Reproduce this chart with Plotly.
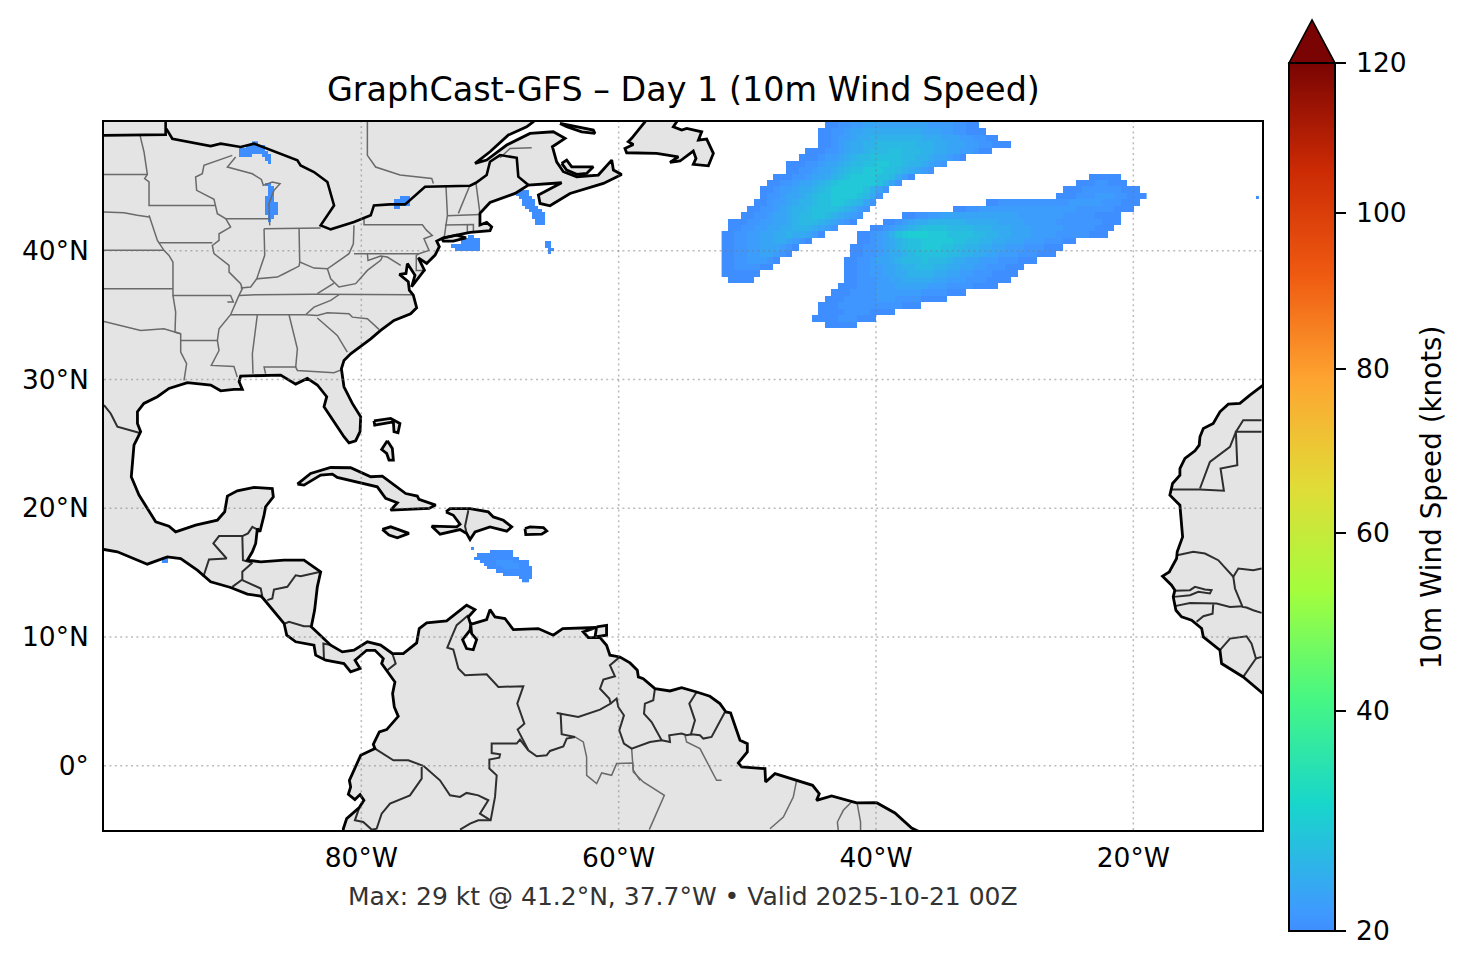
import numpy as np
import plotly.graph_objects as go

TITLE = "GraphCast-GFS – Day 1 (10m Wind Speed)"
FOOTER = "Max: 29 kt @ 41.2°N, 37.7°W • Valid 2025-10-21 00Z"
CBAR_TITLE = "10m Wind Speed (knots)"
LON_TICKS = [-80, -60, -40, -20]
LON_LABELS = ["80°W", "60°W", "40°W", "20°W"]
LAT_TICKS = [0, 10, 20, 30, 40]
LAT_LABELS = ["0°", "10°N", "20°N", "30°N", "40°N"]
CBAR_KT = [20, 40, 60, 80, 100, 120]
CBAR_POS = [0, 0.2535, 0.4585, 0.6475, 0.827, 1]
NORM_KT = [20, 30, 40, 60, 80, 100, 120]
NORM_POS = [0, 0.143, 0.2535, 0.4585, 0.6475, 0.827, 1]
CBAR_SCALE = [[0, "#3f8eff"], [0.024, "#3e9bfe"], [0.146, "#18d6cb"], [0.268, "#46f783"],
              [0.39, "#a3fd3d"], [0.512, "#e1dc37"], [0.634, "#fea531"], [0.756, "#ef5a11"],
              [0.878, "#cb2a04"], [1, "#7a0403"]]

MAINLAND = [(-101, 51), (-66.5, 51), (-66.63, 50.02), (-67.15, 49.63), (-68.57, 48.99), (-70.0, 47.69), (-71.16, 46.78),
    (-70.26, 47.04), (-68.70, 48.21), (-66.89, 49.11), (-65.08, 49.24), (-64.17, 48.73), (-65.15, 48.08), (-64.82, 46.91),
    (-64.3, 46.14), (-63.26, 45.75), (-61.58, 45.88), (-60.54, 47.04), (-60.41, 46.27), (-59.77, 45.93), (-61.19, 45.23),
    (-63.78, 44.45), (-65.34, 43.49), (-66.11, 43.67), (-66.24, 44.32), (-64.43, 45.28), (-67.02, 45.1), (-68.05, 44.45),
    (-70.0, 43.75), (-70.78, 42.9), (-70.78, 42.0), (-70.26, 42.2), (-69.87, 41.86), (-70.0, 41.55), (-71.55, 41.42),
    (-73.63, 41.01), (-74.14, 40.75), (-73.94, 40.31), (-74.27, 39.66), (-74.92, 39.01), (-75.57, 39.45), (-75.1, 38.49),
    (-76.09, 37.2), (-75.83, 38.1), (-76.42, 39.0), (-76.53, 38.23), (-77.04, 38.16), (-76.35, 37.59), (-76.27, 36.94),
    (-75.96, 36.55), (-75.7, 35.57), (-76.17, 35.1), (-77.46, 34.59), (-78.5, 33.81), (-79.27, 33.16), (-80.83, 31.99),
    (-81.35, 31.48), (-81.55, 30.83), (-81.35, 29.43), (-80.7, 28.14), (-80.05, 27.1), (-80.1, 25.94), (-80.44, 25.24),
    (-80.96, 25.08), (-81.35, 25.55), (-81.87, 26.33), (-82.9, 27.88), (-82.69, 28.66), (-83.42, 29.57), (-84.2, 30.08),
    (-85.1, 29.64), (-86.27, 30.34), (-89.38, 30.26), (-89.5, 29.82), (-89.25, 29.23), (-89.9, 29.23), (-90.93, 29.12),
    (-91.7, 29.57), (-93.52, 29.75), (-94.95, 29.3), (-95.85, 28.66), (-96.9, 28.14), (-97.4, 27.49), (-97.4, 26.58),
    (-97.15, 25.94), (-97.67, 24.9), (-97.88, 22.44), (-97.28, 21.02), (-96.63, 19.98), (-95.98, 18.94), (-94.95, 18.6),
    (-94.43, 18.16), (-92.88, 18.68), (-91.19, 19.07), (-90.62, 19.72), (-90.41, 20.94), (-89.64, 21.35), (-88.34, 21.61),
    (-86.92, 21.53), (-86.84, 20.89), (-87.44, 20.11), (-87.56, 19.46), (-87.88, 18.17), (-88.08, 18.42), (-88.21, 17.26),
    (-88.47, 16.61), (-88.86, 15.96), (-87.82, 15.83), (-86.01, 15.96), (-84.46, 15.96), (-83.16, 15.06), (-83.42, 13.89),
    (-83.63, 12.08), (-83.89, 10.78), (-82.38, 9.36), (-81.48, 8.84), (-80.57, 8.97), (-79.53, 9.62), (-78.5, 9.36),
    (-77.59, 8.71), (-76.74, 8.7), (-75.7, 9.53), (-75.5, 10.65), (-74.92, 11.09), (-73.37, 11.24), (-71.82, 12.46),
    (-71.17, 12.12), (-71.69, 11.55), (-71.5, 10.98), (-71.43, 10.26), (-71.04, 9.79), (-71.3, 9.0), (-71.82, 9.09),
    (-72.13, 9.79), (-71.55, 10.52), (-71.5, 10.98), (-70.26, 11.35), (-70.0, 12.12), (-69.61, 11.55), (-68.84, 11.43),
    (-68.19, 10.57), (-66.25, 10.65), (-65.08, 10.13), (-64.35, 10.65), (-61.71, 10.73), (-62.75, 10.39), (-62.36, 9.95),
    (-61.45, 9.95), (-60.94, 9.35), (-60.68, 8.58), (-59.9, 8.44), (-59.12, 7.98), (-58.55, 7.41), (-58.47, 6.89),
    (-58.09, 6.76), (-57.18, 5.98), (-56.01, 5.8), (-55.11, 6.06), (-53.94, 5.72), (-52.91, 5.39), (-52.13, 4.82),
    (-51.66, 4.17), (-51.3, 4.09), (-50.57, 1.97), (-50.0, 1.71), (-50.0, 1.06), (-50.7, 0.21), (-50.44, -0.1),
    (-48.63, -0.23), (-48.58, -1.27), (-47.85, -0.62), (-46.17, -1.14), (-44.93, -1.53), (-44.41, -2.18), (-44.62, -2.7),
    (-43.45, -2.36), (-41.51, -2.9), (-39.95, -2.88), (-38.53, -3.68), (-37.23, -4.85), (-36.58, -5.16), (-36, -7),
    (-81.4, -7), (-81.4, -4.9), (-81.14, -4.12), (-80.16, -3.26), (-79.8, -2.69), (-80.1, -2.25), (-80.5, -2.64),
    (-81.01, -2.23), (-80.83, -1.66), (-80.93, -1.14), (-80.05, 0.8), (-78.94, 1.32), (-79.07, 1.66), (-78.6, 2.62),
    (-78.03, 2.8), (-77.13, 3.83), (-77.44, 4.56), (-77.57, 5.6), (-77.39, 6.5), (-78.42, 7.93), (-78.29, 8.32),
    (-78.94, 8.96), (-79.59, 8.96), (-80.49, 8.19), (-80.1, 7.54), (-80.83, 7.28), (-81.14, 7.67), (-81.35, 7.93),
    (-82.77, 8.19), (-83.55, 8.58), (-83.68, 9.36), (-85.1, 9.62), (-85.8, 10.14), (-86.0, 11.04), (-87.62, 12.98),
    (-87.82, 13.17), (-88.86, 13.32), (-90.16, 13.84), (-91.71, 14.28), (-92.75, 15.19), (-94.04, 16.09), (-95.08, 16.22),
    (-96.63, 15.65), (-98.96, 16.61), (-100, 16.79), (-101, 16.9), (-101, 51)]
AFRICA = [(-9, 30), (-9.9, 29.56), (-10.94, 28.78), (-11.72, 28.14), (-12.62, 28.08), (-13.27, 27.49), (-13.79, 26.58),
    (-14.56, 26.19), (-14.82, 25.55), (-14.88, 24.9), (-15.21, 24.46), (-15.99, 23.86), (-16.38, 23.08), (-16.38, 22.57),
    (-16.95, 21.92), (-17.16, 21.01), (-16.38, 20.23), (-16.25, 18.55), (-16.17, 17.77), (-16.59, 16.61), (-16.64, 16.09),
    (-17.21, 15.05), (-17.73, 14.72), (-17.03, 14.02), (-16.77, 13.63), (-16.9, 13.11), (-16.69, 12.07), (-16.25, 11.56),
    (-15.47, 11.3), (-14.69, 10.65), (-14.56, 10.0), (-13.27, 8.97), (-13.14, 7.93), (-11.46, 6.89), (-10.03, 5.73),
    (-9.77, 5.47), (-9, 5), (-9, 30)]
NEWFOUNDLAND = [(-57.7, 50.6), (-57.95, 50.02), (-58.99, 48.73), (-59.25, 48.47), (-58.86, 48.26), (-59.51, 47.95),
    (-59.38, 47.61), (-57.05, 47.56), (-55.36, 47.3), (-56.01, 46.86), (-55.23, 46.97), (-54.2, 47.74), (-53.99, 47.17),
    (-54.2, 46.71), (-53.03, 46.6), (-52.64, 47.56), (-53.16, 48.67), (-53.8, 48.6), (-53.55, 49.24), (-54.71, 49.5),
    (-55.1, 49.37), (-55.75, 49.63), (-55.49, 50.02), (-55.5, 50.6), (-57.7, 50.6)]
ANTICOSTI = [(-64.56, 49.89), (-63.26, 49.63), (-61.97, 49.37), (-61.84, 49.12), (-62.87, 49.24), (-64.04, 49.63), (-64.56, 49.89)]
PEI = [(-64.43, 46.78), (-64.04, 47.04), (-63.65, 46.52), (-61.97, 46.52), (-62.49, 46.0), (-63.26, 45.93), (-64.04, 46.27), (-64.43, 46.78)]
LONG_ISLAND = [(-73.75, 40.95), (-72.59, 41.21), (-71.86, 41.0), (-72.85, 40.75), (-73.63, 40.75), (-73.75, 40.95)]
GRAND_BAHAMA = [(-79.02, 26.79), (-77.72, 26.97), (-77.0, 26.58), (-77.15, 25.86), (-77.46, 25.94), (-77.51, 26.71), (-78.96, 26.46), (-79.02, 26.79)]
ANDROS = [(-77.98, 25.24), (-78.42, 24.56), (-78.03, 24.25), (-77.85, 23.74), (-77.51, 23.74), (-77.59, 24.64), (-77.98, 25.24)]
CUBA = [(-84.97, 21.87), (-83.94, 22.7), (-82.38, 23.16), (-80.83, 23.14), (-79.27, 22.44), (-78.37, 22.49), (-76.55, 21.14),
    (-75.65, 20.94), (-75.52, 20.68), (-74.22, 20.24), (-74.74, 19.98), (-77.72, 19.85), (-77.2, 20.42), (-78.11, 20.76),
    (-78.76, 21.66), (-81.87, 22.39), (-82.25, 22.65), (-83.16, 22.57), (-84.46, 21.79), (-84.97, 21.87)]
JAMAICA = [(-78.37, 18.35), (-77.72, 18.55), (-76.3, 18.04), (-77.2, 17.7), (-77.85, 17.91), (-78.37, 18.35)]
HISPANIOLA = [(-73.42, 19.71), (-73.11, 19.97), (-71.55, 19.97), (-70.13, 19.71), (-69.74, 19.32), (-68.96, 19.06), (-68.31, 18.55),
    (-68.7, 18.21), (-70.0, 18.55), (-71.16, 18.16), (-71.55, 17.56), (-71.81, 18.03), (-72.33, 18.34), (-73.88, 17.98),
    (-74.53, 18.6), (-72.59, 18.55), (-72.33, 18.75), (-72.85, 19.45), (-73.42, 19.71)]
PUERTO_RICO = [(-67.28, 18.42), (-66.89, 18.55), (-65.85, 18.49), (-65.59, 18.23), (-65.98, 17.98), (-67.22, 17.95), (-67.28, 18.42)]
TRINIDAD = [(-61.71, 10.78), (-60.94, 10.9), (-60.94, 10.13), (-61.84, 10.0), (-61.71, 10.78)]
LAND_POLYGONS = [MAINLAND, AFRICA, NEWFOUNDLAND, ANTICOSTI, PEI, LONG_ISLAND, GRAND_BAHAMA, ANDROS, CUBA, JAMAICA,
                 HISPANIOLA, PUERTO_RICO, TRINIDAD]

BLACK_BORDERS = [
    [(-100, 48.96), (-95.21, 49.02), (-95.21, 50)],
    [(-95.16, 49.48), (-94.69, 48.7), (-91.71, 48.13), (-90.93, 48.32), (-89.38, 48.06), (-88.34, 48.32), (-84.97, 47.02),
     (-84.72, 46.63), (-83.68, 46.11), (-82.64, 45.34), (-82.12, 43.52), (-83.16, 41.97), (-82.38, 41.66), (-80.57, 42.23),
     (-79.27, 42.75), (-79.02, 43.52), (-77.77, 43.6), (-76.6, 43.6), (-75.05, 44.97), (-71.55, 45.05), (-71.09, 45.28),
     (-70.26, 45.88), (-70.0, 46.91), (-69.22, 47.43), (-67.92, 47.22), (-67.8, 45.75), (-67.02, 45.1)],
]
DARK_BORDERS = [
    [(-100, 28.01), (-99.48, 27.36), (-98.96, 26.33), (-97.28, 25.86)],
    [(-92.28, 14.67), (-91.84, 16.01), (-90.47, 16.09), (-91.5, 17.26), (-91.06, 17.83), (-89.25, 17.83), (-89.2, 15.96), (-88.47, 15.76)],
    [(-89.25, 17.83), (-88.81, 18.04), (-88.47, 18.55), (-88.08, 18.34)],
    [(-88.47, 15.76), (-89.25, 15.06), (-89.25, 14.46), (-90.03, 13.89)],
    [(-89.25, 14.41), (-87.82, 13.76), (-87.69, 13.11)],
    [(-83.16, 15.06), (-84.72, 14.72), (-85.1, 14.79), (-85.75, 13.89), (-86.79, 13.68), (-86.92, 12.98), (-87.31, 12.86)],
    [(-85.93, 11.04), (-85.62, 11.17), (-84.46, 10.83), (-83.81, 10.83)],
    [(-82.38, 9.36), (-82.95, 9.49), (-82.9, 8.19)],
    [(-77.59, 8.71), (-77.33, 7.93), (-77.98, 7.41)],
    [(-71.69, 11.68), (-72.59, 10.91), (-72.98, 10.0), (-73.32, 9.17), (-72.85, 9.02), (-72.46, 7.54), (-71.94, 7.02),
     (-70.26, 7.1), (-69.35, 6.11), (-67.41, 6.17), (-67.88, 4.82), (-67.33, 3.26), (-67.85, 2.8), (-67.02, 1.19)],
    [(-67.02, 1.19), (-67.67, 2.02), (-67.93, 1.71), (-69.87, 1.71), (-69.87, 0.98), (-69.22, 0.88), (-69.28, 0.62),
     (-70.05, 0.47), (-70.05, -0.23), (-69.48, -0.75), (-69.61, -2.43), (-69.95, -4.25), (-70.91, -4.25), (-71.55, -4.51), (-72.33, -4.97)],
    [(-69.95, -4.25), (-70.78, -3.73), (-70.13, -2.69), (-70.91, -2.31), (-71.82, -2.12), (-72.33, -2.43), (-73.11, -2.3), (-73.89, -1.14), (-75.18, 0.0)],
    [(-78.94, 1.32), (-77.51, 0.41), (-76.35, 0.41), (-75.18, -0.02)],
    [(-75.31, -0.1), (-75.31, -1.01), (-76.22, -2.31), (-77.77, -2.95), (-78.42, -3.73), (-78.81, -4.9), (-79.2, -4.97), (-79.85, -4.38), (-80.5, -4.25), (-80.16, -3.26)],
    [(-67.02, 1.19), (-66.37, 0.73), (-65.6, 0.8), (-65.34, 1.14), (-64.3, 1.5), (-64.04, 2.1), (-63.4, 2.23), (-64.43, 2.44),
     (-64.51, 4.04), (-64.82, 4.09), (-63.14, 3.78), (-61.45, 4.35), (-60.62, 4.82), (-60.73, 5.21), (-61.45, 5.98),
     (-61.19, 6.68), (-60.29, 6.94), (-60.68, 7.8), (-59.9, 8.45)],
    [(-60.62, 4.82), (-60.16, 5.21), (-60.03, 4.56), (-59.59, 3.91), (-59.95, 2.75), (-59.59, 1.71), (-58.99, 1.32), (-57.57, 1.84),
     (-56.66, 1.97), (-56.01, 1.84), (-56.07, 2.36), (-55.11, 2.49), (-54.72, 2.36), (-54.33, 2.43), (-53.68, 2.36), (-53.42, 2.1),
     (-52.78, 2.23), (-51.74, 4.17)],
    [(-57.18, 5.98), (-57.31, 5.08), (-57.96, 4.82), (-58.03, 4.04), (-57.44, 3.39), (-56.66, 1.97)],
    [(-53.94, 5.72), (-54.51, 4.82), (-54.07, 3.52), (-54.41, 2.36)],
    [(-71.68, 19.84), (-71.94, 18.6), (-71.81, 18.03)],
    [(-17.1, 21.45), (-14.82, 21.45), (-12.96, 21.35), (-13.22, 23.08), (-11.92, 23.34), (-12.03, 25.93), (-10.03, 25.93)],
    [(-14.82, 21.53), (-14.05, 23.6), (-12.49, 24.77), (-12.03, 25.93), (-11.46, 26.84), (-10.03, 26.84)],
    [(-16.59, 16.35), (-15.34, 16.61), (-14.43, 16.48), (-13.4, 15.96), (-12.23, 14.67), (-11.84, 15.31), (-10.68, 15.18), (-10.03, 15.31)],
    [(-12.23, 14.67), (-12.1, 13.76), (-11.51, 12.33), (-11.2, 12.28), (-10.68, 12.07), (-10.03, 11.87)],
    [(-16.77, 12.39), (-15.6, 12.64), (-13.53, 12.59), (-12.49, 12.33), (-11.51, 12.39)],
    [(-16.77, 13.58), (-15.6, 13.63), (-15.21, 13.89), (-14.43, 13.68), (-13.92, 13.63), (-14.05, 13.37), (-14.95, 13.5), (-15.6, 13.24), (-16.84, 13.11)],
    [(-13.79, 12.54), (-13.84, 11.8), (-14.56, 11.61), (-15.08, 11.17)],
    [(-13.27, 8.97), (-12.49, 9.87), (-11.2, 10.05), (-10.81, 9.48), (-10.47, 8.32), (-10.03, 8.45)],
    [(-10.47, 8.32), (-11.46, 6.89)],
]
STATE_LINES = [
    [(-100, 45.93), (-96.63, 45.93)],
    [(-97.2, 48.96), (-96.89, 47.67), (-96.63, 45.93), (-96.84, 45.6), (-96.5, 45.34), (-96.5, 43.52), (-91.32, 43.52)],
    [(-90.03, 47.41), (-92.23, 46.63), (-92.36, 45.98), (-92.88, 45.73), (-92.8, 44.69), (-91.45, 43.99), (-91.19, 42.88), (-90.54, 42.49), (-87.18, 42.49)],
    [(-89.77, 47.28), (-90.41, 46.5), (-88.47, 45.98), (-87.77, 45.54), (-87.62, 45.08), (-86.92, 45.34), (-86.32, 45.21), (-86.79, 44.69), (-87.18, 43.65), (-87.12, 41.97)],
    [(-87.56, 41.71), (-87.51, 39.64), (-88.13, 37.82), (-86.53, 37.95), (-86.01, 38.21), (-84.84, 38.81), (-84.79, 39.12)],
    [(-87.56, 41.71), (-84.84, 41.76), (-83.16, 41.76)],
    [(-84.84, 41.76), (-84.79, 39.12), (-83.68, 38.65), (-82.64, 38.6), (-82.25, 38.86), (-80.96, 39.77), (-80.62, 40.54), (-80.57, 41.97)],
    [(-80.57, 39.77), (-75.52, 39.77)],
    [(-79.79, 42.49), (-79.79, 42.02), (-75.26, 42.02), (-74.92, 41.58), (-74.48, 41.19), (-75.13, 40.93), (-74.74, 40.03), (-75.52, 39.77)],
    [(-79.53, 39.77), (-79.48, 39.25), (-78.5, 39.59), (-77.98, 39.51), (-76.94, 38.86)],
    [(-75.52, 39.77), (-75.73, 39.64), (-75.73, 38.47), (-75.0, 38.47)],
    [(-82.64, 38.6), (-82.38, 37.82), (-81.74, 37.18), (-80.44, 37.44), (-79.53, 38.47), (-78.5, 39.25), (-78.37, 39.51)],
    [(-82.12, 37.49), (-83.42, 36.66)],
    [(-89.51, 36.53), (-88.08, 36.58), (-83.68, 36.61), (-75.91, 36.58)],
    [(-95.73, 40.62), (-91.58, 40.62)],
    [(-100, 40.03), (-95.34, 40.03)],
    [(-100, 37.05), (-94.64, 37.05)],
    [(-94.64, 39.12), (-94.64, 36.53), (-90.16, 36.53), (-89.95, 36.01), (-90.41, 36.01)],
    [(-96.5, 42.75), (-95.85, 40.8), (-95.34, 40.03), (-94.95, 39.64), (-94.64, 39.12)],
    [(-100, 43.0), (-98.45, 42.95), (-97.41, 42.75), (-96.5, 42.62)],
    [(-90.54, 42.49), (-90.16, 41.84), (-91.06, 41.32), (-91.06, 40.8), (-91.58, 40.41), (-91.45, 39.77), (-90.28, 38.86), (-90.28, 38.34), (-89.38, 37.44), (-89.25, 37.05), (-89.51, 36.53)],
    [(-89.38, 37.1), (-88.6, 37.18), (-88.13, 37.82)],
    [(-90.16, 35.03), (-84.33, 35.03)],
    [(-89.51, 36.53), (-90.03, 35.36), (-90.16, 35.03), (-91.06, 33.94), (-91.19, 33.03), (-91.06, 32.25), (-91.66, 31.09), (-89.9, 31.01), (-89.64, 30.18)],
    [(-81.74, 36.58), (-82.38, 36.14), (-83.68, 35.62), (-84.33, 35.03), (-83.42, 34.97), (-82.64, 35.18), (-80.96, 35.1), (-80.7, 34.84), (-79.53, 34.72), (-78.63, 33.89)],
    [(-83.42, 34.77), (-81.87, 33.42), (-81.09, 32.12)],
    [(-88.08, 35.03), (-88.47, 32.0), (-88.42, 30.44)],
    [(-85.62, 35.03), (-84.97, 32.38), (-85.1, 30.96)],
    [(-87.44, 30.44), (-87.56, 30.96), (-85.1, 30.96), (-84.97, 30.7), (-82.12, 30.52), (-81.48, 30.78)],
    [(-94.04, 33.03), (-91.19, 33.03)],
    [(-100, 34.51), (-99.22, 34.33), (-97.15, 33.81), (-95.34, 33.94), (-94.04, 33.55), (-94.04, 32.12), (-93.58, 31.22), (-93.78, 29.92)],
    [(-94.64, 36.53), (-94.43, 35.23), (-94.48, 33.68), (-94.04, 33.55)],
    [(-73.42, 44.97), (-73.31, 42.77), (-73.57, 40.95)],
    [(-71.55, 45.1), (-72.46, 42.9)],
    [(-71.09, 45.23), (-70.78, 42.9)],
    [(-73.31, 42.72), (-70.78, 42.82)],
    [(-73.5, 42.0), (-71.29, 42.04), (-71.29, 41.42)],
    [(-71.76, 42.0), (-71.76, 41.34)],
    [(-69.22, 47.22), (-68.44, 47.95), (-66.76, 48.0)],
    [(-79.53, 50), (-79.53, 47.41), (-78.89, 46.5), (-77.2, 45.98), (-76.99, 45.88), (-74.53, 45.62), (-74.4, 45.23)],
    [(-58.99, 1.32), (-58.86, -0.49), (-58.09, -1.27), (-56.45, -2.31), (-57.62, -4.97)],
    [(-54.85, 2.36), (-54.72, 1.84), (-53.68, 1.32), (-53.03, 0.02), (-52.39, -1.14), (-52.0, -1.14)],
    [(-46.17, -1.14), (-46.43, -2.44), (-47.2, -4.0), (-48.24, -4.9)],
    [(-41.9, -2.82), (-42.54, -3.47), (-43.0, -4.38), (-42.93, -5.03)],
    [(-41.46, -2.95), (-41.2, -4.38), (-41.2, -5.03)],
    [(-63.4, 2.23), (-62.75, 1.84), (-62.49, 0.67), (-62.49, -0.75), (-61.71, -1.4), (-61.32, -0.57), (-60.55, -0.75), (-60.16, 0.16), (-58.91, 0.21), (-58.86, -0.36), (-58.34, -1.14)],
]

# wind, knots above 20 as one digit per cell; (latitude, first cell's west edge, cells)
WIND_COARSE = [
    (49.75, -44.0, "001122333333333322221100"), (49.25, -44.5, "00112334444444443332211000"),
    (48.75, -44.5, "0012234455555555444333221100"), (48.25, -44.5, "001234455666666555443332211000"),
    (47.75, -45.5, "00011234456667766655443322100"), (47.25, -46.0, "00012234566777776655433210"),
    (46.75, -47.0, "0001123345667788776554321"), (46.25, -47.0, "00112334567788877654321"),
    (45.75, -48.0, "0001123345678888776420"), (45.25, -48.5, "001123345678888887531"),
    (44.75, -49.0, "00122344567888887531"), (44.25, -49.0, "0112334567788887641"),
    (43.75, -49.5, "0012234556778876531"), (43.25, -50.0, "0011234556777765421"),
    (42.75, -50.5, "0011233456677654321"), (42.25, -51.5, "00011223345666543210"),
    (41.75, -51.5, "00112233445554321"), (41.25, -52.0, "0011223344544320"),
    (40.75, -52.0, "00112233443210"), (40.25, -52.0, "001122333210"),
    (39.75, -52.0, "00112233210"), (39.25, -52.0, "001122210"),
    (38.75, -52.0, "00111100"), (38.25, -52.0, "000000"), (37.75, -51.5, "0000"),
    (45.75, -23.5, "00000"), (45.25, -24.5, "00011000"), (44.75, -25.5, "000111111000"),
    (44.25, -26.0, "00011122211000"), (43.75, -31.5, "001111111111122222111000"),
    (43.25, -34.0, "0011222222222222222111111000"), (42.75, -38.0, "0011223333333333332222222111110000"),
    (42.25, -39.5, "0012344555555444443333222221111111000"), (41.75, -40.5, "00123456777766665554443332222211111000"),
    (41.25, -41.5, "001235789998887777665544333222211111000"), (40.75, -41.5, "0012345677888887766554433322211100"),
    (40.25, -42.0, "001123456778887766554433222111000"), (39.75, -42.0, "00112344567777766554433222111000"),
    (39.25, -42.5, "001123345666766654433222111000"), (38.75, -42.5, "0011223345566655443322111000"),
    (38.25, -42.5, "001122334455554433221110000"), (37.75, -42.5, "00111223344444332221110000"),
    (37.25, -43.0, "0001112223333322211110000"), (36.75, -43.5, "000111122222221111000"),
    (36.25, -44.0, "0001111122211110000"), (35.75, -44.5, "0001111111111000"),
    (35.25, -44.5, "000011110000"), (34.75, -45.0, "0000111000"), (34.25, -44.0, "00000"),
]
WIND_FINE = [
    (48.375, -88.5, "00"), (48.125, -89.0, "000000"), (47.875, -89.5, "00000000"), (47.625, -89.5, "000000000"),
    (47.375, -89.5, "0000"), (47.375, -87.75, "000"), (47.125, -87.5, "00"), (46.875, -87.25, "0"),
    (45.125, -87.5, "00"), (44.875, -87.25, "00"), (44.625, -87.25, "00"), (44.375, -87.25, "00"),
    (44.125, -87.5, "000"), (43.875, -87.5, "000"), (43.625, -87.5, "0000"), (43.375, -87.5, "0000"),
    (43.125, -87.5, "0000"), (42.875, -87.5, "0000"), (42.625, -87.25, "00"), (42.375, -87.25, "0"),
    (44.125, -77.0, "000"), (43.875, -77.5, "00000"), (43.625, -77.5, "00000"), (43.375, -77.5, "00"),
    (44.625, -67.75, "000"), (44.375, -68.0, "0000"), (44.125, -67.75, "0000"), (43.875, -67.5, "0000"),
    (43.625, -67.5, "0000"), (43.375, -67.25, "0000"), (43.125, -67.0, "0000"), (42.875, -66.75, "0000"),
    (42.625, -66.75, "0000"), (42.375, -66.5, "000"), (42.125, -66.5, "000"),
    (41.125, -71.75, "00"), (40.875, -72.25, "000000"), (40.625, -72.25, "000000"), (40.375, -73.0, "000000000"), (40.125, -72.75, "00000000"),
    (40.625, -65.75, "00"), (40.375, -65.75, "00"), (40.125, -65.5, "00"), (39.875, -65.5, "0"),
    (44.125, -10.5, "0"), (16.125, -95.5, "00"), (15.875, -95.5, "00"), (16.875, -71.5, "0"),
    (16.625, -70.0, "0000000"), (16.375, -71.0, "00000000000"), (16.125, -71.25, "00000000000000"),
    (15.875, -70.75, "000001111100000"), (15.625, -70.5, "00001111111000"), (15.375, -70.25, "00000111110000"),
    (15.125, -69.5, "00000000000"), (14.875, -69.0, "000000000"), (14.625, -67.75, "0000"), (14.375, -67.5, "00"),
]


def grid(rows, step):
    south = min(r[0] for r in rows)
    north = max(r[0] for r in rows)
    lats = [south + step * i for i in range(int(round((north - south) / step)) + 1)]
    w = min(r[1] for r in rows)
    e = max(r[1] + step * len(r[2]) for r in rows)
    lons = [w + step * (i + 0.5) for i in range(int(round((e - w) / step)))]
    z = [[None] * len(lons) for _ in lats]
    for lat, start, cells in rows:
        row = z[int(round((lat - south) / step))]
        first = int(round((start - w) / step))
        for i, c in enumerate(cells):
            row[first + i] = float(np.interp(20 + int(c), NORM_KT, NORM_POS))
    return lons, lats, z


def joined(parts):
    xs, ys = [], []
    for part in parts:
        xs += [p[0] for p in part] + [None]
        ys += [p[1] for p in part] + [None]
    return xs, ys


FONT = "DejaVu Sans"
TICK_SIZE = 26.5
fig = go.Figure()
for rows, step in ((WIND_COARSE, 0.5), (WIND_FINE, 0.25)):
    lons, lats, z = grid(rows, step)
    fig.add_trace(go.Heatmap(x=lons, y=lats, z=z, coloraxis="coloraxis", hoverongaps=False, name="10m wind"))
for parts, color, width in ((STATE_LINES, "#6a6a6a", 1.5), (DARK_BORDERS, "#2e2e2e", 2.0),
                            (BLACK_BORDERS, "#000000", 2.6), (LAND_POLYGONS, "#000000", 2.8)):
    px_, py_ = joined(parts)
    fig.add_trace(go.Scatter(x=px_, y=py_, mode="lines", hoverinfo="skip", connectgaps=False,
                             line=dict(color=color, width=width)))

# land sits under the heatmaps, so it is a below-traces shape in data coordinates
land_path = " ".join("M " + " L ".join(f"{lon},{lat}" for lon, lat in poly) + " Z" for poly in LAND_POLYGONS)
shapes = [dict(type="path", xref="x", yref="y", path=land_path, fillcolor="#e4e4e4", line=dict(width=0), layer="below")]
grid_line = dict(color="rgba(120,120,120,0.5)", width=1.5, dash="2px,3.4px")
shapes += [dict(type="line", xref="x", yref="paper", x0=v, x1=v, y0=0, y1=1, line=grid_line, layer="above") for v in LON_TICKS]
shapes += [dict(type="line", xref="paper", yref="y", x0=0, x1=1, y0=v, y1=v, line=grid_line, layer="above") for v in LAT_TICKS]
# colour bar's extension triangle
shapes.append(dict(type="path", xref="paper", yref="paper", path="M 1.0233 1.0833 L 1.0432 1.1441 L 1.0630 1.0833 Z",
                   fillcolor="#7a0403", line=dict(color="black", width=1.6), layer="above"))

fig.update_layout(
    width=1466, height=969, autosize=False, showlegend=False, paper_bgcolor="white", plot_bgcolor="white",
    margin=dict(l=104, r=204, t=122, b=139, pad=0, autoexpand=False),
    font=dict(family=FONT, size=TICK_SIZE, color="black"),
    xaxis=dict(range=[-100, -10], tickvals=LON_TICKS, ticktext=LON_LABELS, showgrid=False, zeroline=False,
               showline=True, mirror=True, linecolor="black", linewidth=1.8, ticks="outside", ticklen=3,
               tickcolor="rgba(0,0,0,0)", tickfont=dict(size=TICK_SIZE)),
    yaxis=dict(range=[-5, 50], tickvals=LAT_TICKS, ticktext=LAT_LABELS, showgrid=False, zeroline=False,
               showline=True, mirror=True, linecolor="black", linewidth=1.8, ticks="outside", ticklen=8,
               tickcolor="rgba(0,0,0,0)", tickfont=dict(size=TICK_SIZE)),
    coloraxis=dict(cmin=0, cmax=1, colorscale=CBAR_SCALE, colorbar=dict(
        x=1.0233, xanchor="left", xpad=0, y=-0.1427, yanchor="bottom", ypad=0, yref="paper",
        thickness=46, thicknessmode="pixels", len=868, lenmode="pixels",
        outlinecolor="black", outlinewidth=2, tickmode="array", tickvals=CBAR_POS,
        ticktext=["\u2009" + str(v) for v in CBAR_KT], ticks="outside", ticklen=10, tickwidth=2, tickcolor="black",
        tickfont=dict(size=TICK_SIZE))),
    shapes=shapes,
    annotations=[
        dict(text=TITLE, xref="paper", yref="paper", x=0.5, y=1.0466, xanchor="center", yanchor="middle",
             showarrow=False, font=dict(size=33.4, color="black")),
        dict(text=FOOTER, xref="paper", yref="paper", x=0.5, y=-0.0946, xanchor="center", yanchor="middle",
             showarrow=False, font=dict(size=25, color="#333333")),
        dict(text=CBAR_TITLE, xref="paper", yref="paper", x=1.146, y=0.470, xanchor="center", yanchor="middle",
             textangle=-90, showarrow=False, font=dict(size=27.8, color="black")),
    ],
)
fig.write_html("out.html", config=dict(displayModeBar=False), post_script="document.body.style.margin='0';")
